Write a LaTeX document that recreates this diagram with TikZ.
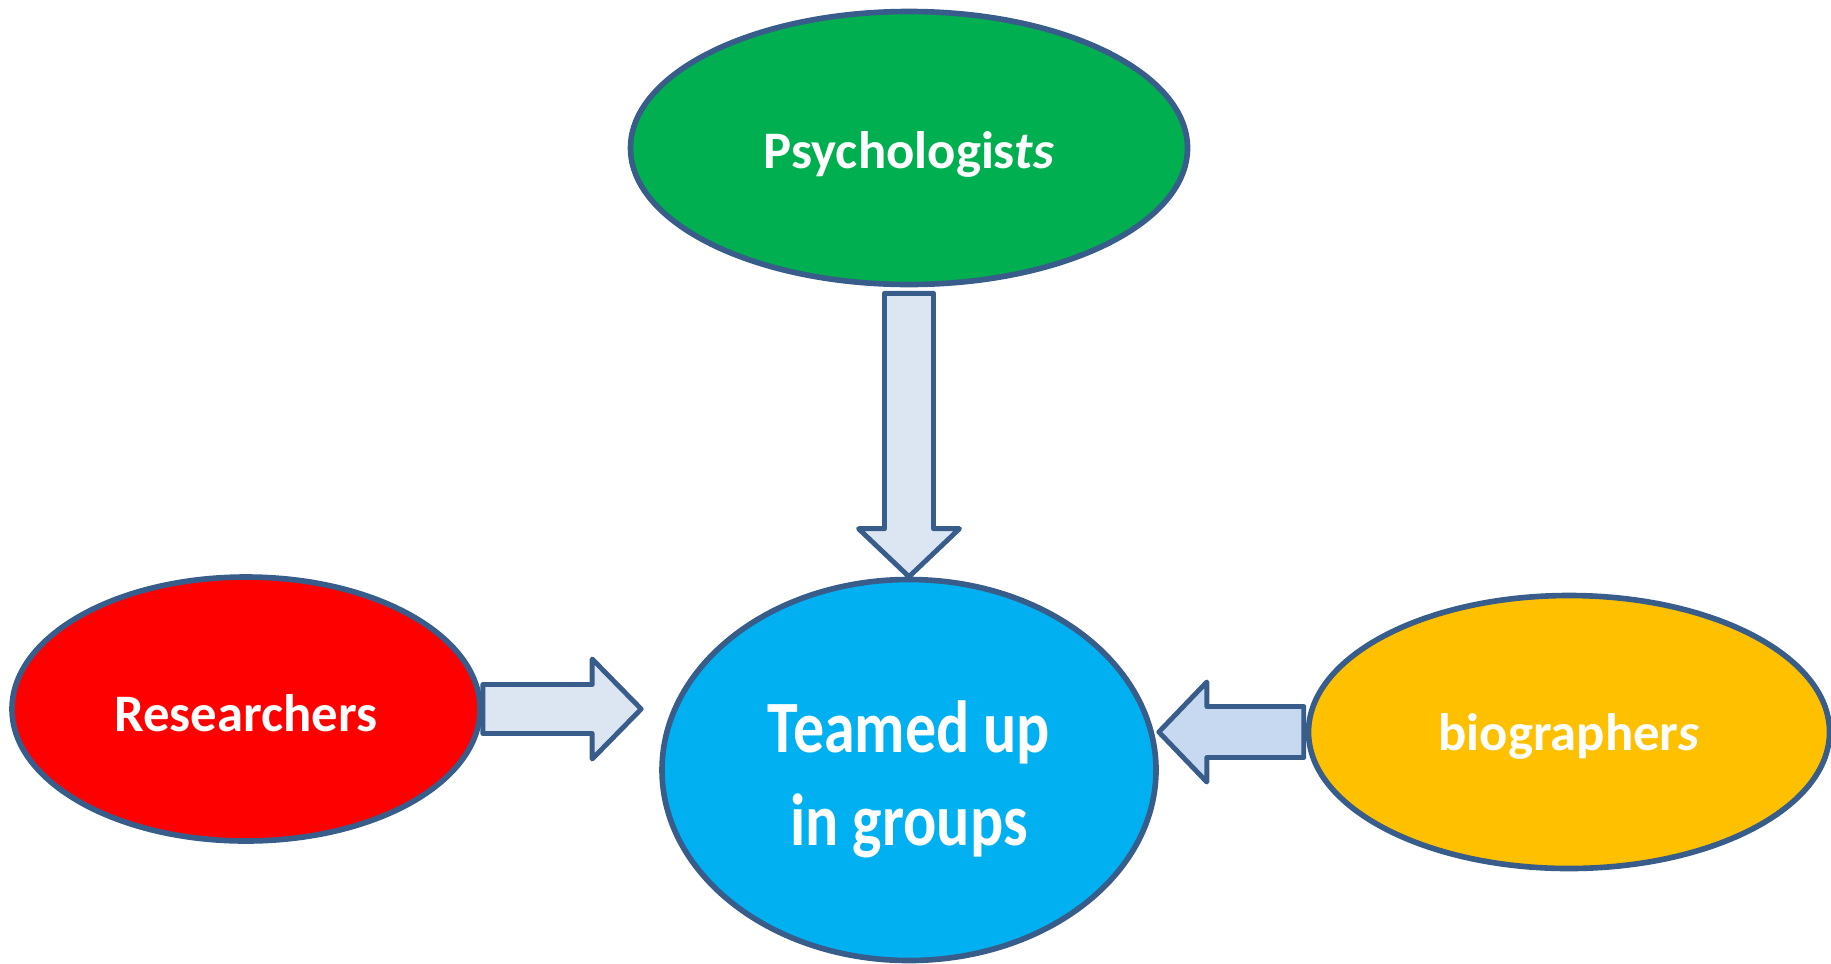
\documentclass[tikz,border=0pt]{standalone}
\usepackage{fontspec}
\setmainfont{Carlito}
\usepackage{graphicx}
\usetikzlibrary{shapes.geometric,calc}

\definecolor{edgeblue}{RGB}{56,93,138}
\definecolor{psygreen}{RGB}{0,176,80}
\definecolor{resred}{RGB}{255,0,0}
\definecolor{teamblue}{RGB}{0,176,240}
\definecolor{bioyellow}{RGB}{255,192,0}
\definecolor{arrowpale}{RGB}{220,230,242}
\definecolor{arrowblue}{RGB}{198,217,241}

\begin{document}
\begin{tikzpicture}[
    group/.style={ellipse, draw=edgeblue, line width=1.6pt, inner sep=0pt, text=white, align=center, font=\bfseries\fontsize{15}{18}\selectfont},
    blockarrow/.style={draw=edgeblue, line width=1.4pt, line join=round, fill=arrowpale}
]
\useasboundingbox (0,0) rectangle (18.31,9.63);

\node[group, fill=psygreen, minimum width=5.57cm, minimum height=2.73cm] (psy) at (9.09,8.15) {\rule{0pt}{14pt}Psychologis\textit{ts}};
\node[group, fill=teamblue, minimum width=4.94cm, minimum height=3.81cm, font=\bfseries\fontsize{21}{26.5}\selectfont] (team) at (9.09,1.93)
    {\rule{0pt}{20pt}\scalebox{0.84}[1]{Teamed up}\\\scalebox{0.84}[1]{in groups}};
\node[group, fill=resred, minimum width=4.68cm, minimum height=2.64cm] (res) at (2.46,2.54) {\rule{0pt}{13pt}Researchers};
\node[group, fill=bioyellow, minimum width=5.21cm, minimum height=2.73cm] (bio) at (15.69,2.31) {\rule{0pt}{13pt}biographer\textit{s}};

% block arrows into the centre
\draw[blockarrow] ($(psy.south)+(-0.245,-0.06)$) -- ($(psy.south)+(0.245,-0.06)$)
    -- ($(team.north)+(0.245,0.48)$) -- ($(team.north)+(0.505,0.48)$) -- (team.north)
    -- ($(team.north)+(-0.505,0.48)$) -- ($(team.north)+(-0.245,0.48)$) -- cycle;
\coordinate (restip) at ($(res.east -| team.west)+(-0.18,0)$);
\draw[blockarrow] ($(res.east)+(0,0.245)$) -- ($(restip)+(-0.49,0.245)$) -- ($(restip)+(-0.49,0.5)$) -- (restip)
    -- ($(restip)+(-0.49,-0.5)$) -- ($(restip)+(-0.49,-0.245)$) -- ($(res.east)+(0,-0.245)$) -- cycle;
\coordinate (biotip) at (bio.west -| team.east);
\draw[blockarrow, fill=arrowblue] ($(bio.west)+(-0.02,0.255)$) -- ($(biotip)+(0.48,0.255)$) -- ($(biotip)+(0.48,0.5)$) -- (biotip)
    -- ($(biotip)+(0.48,-0.5)$) -- ($(biotip)+(0.48,-0.255)$) -- ($(bio.west)+(-0.02,-0.255)$) -- cycle;
\end{tikzpicture}
\end{document}
